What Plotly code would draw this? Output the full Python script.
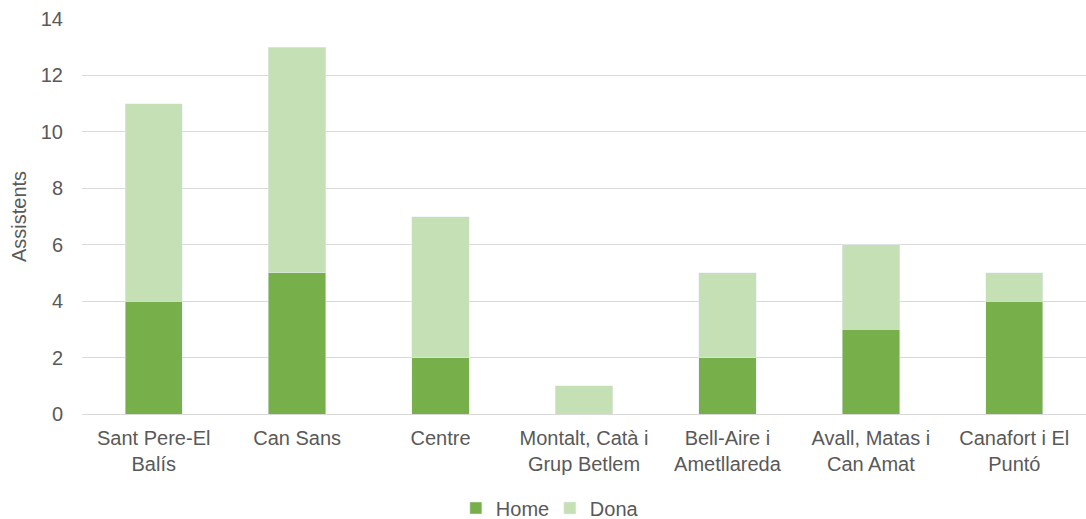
import plotly.graph_objects as go

categories = ["Sant Pere-El<br>Balís", "Can Sans", "Centre", "Montalt, Catà i<br>Grup Betlem",
              "Bell-Aire i<br>Ametllareda", "Avall, Matas i<br>Can Amat", "Canafort i El<br>Puntó"]
home = [4, 5, 2, 0, 2, 3, 4]
dona = [7, 8, 5, 1, 3, 3, 1]
y_ticks = [0, 2, 4, 6, 8, 10, 12, 14]

font = dict(family="Liberation Sans, Arial, sans-serif", size=20, color="#595959")

fig = go.Figure()
fig.add_trace(go.Bar(x=categories, y=home, name="Home", marker_color="#77B04B"))
fig.add_trace(go.Bar(x=categories, y=dona, name="Dona", marker_color="#C5E0B4"))

fig.update_layout(
    barmode="stack",
    bargap=0.6,
    width=1086, height=519,
    margin=dict(l=82, r=0, t=19, b=105, autoexpand=False),
    plot_bgcolor="white", paper_bgcolor="white",
    font=font,
    legend=dict(orientation="h", x=0.466, xanchor="center", y=-0.238, yanchor="middle",
                font=font, itemwidth=30, traceorder="normal",
                entrywidth=49, entrywidthmode="pixels"),
    xaxis=dict(showline=True, linecolor="#D9D9D9", linewidth=1, ticks="", tickfont=font,
               ticklabelstandoff=6, automargin=False),
    yaxis=dict(range=[0, 14], tickvals=y_ticks, showgrid=True, gridcolor="#D9D9D9",
               zeroline=False, tickfont=font, ticks="", ticklabelstandoff=18, automargin=False,
               title=dict(text="Assistents", font=font, standoff=8)),
)
fig.write_html("out.html", post_script="document.body.style.margin='0px';",
               config={"displayModeBar": False})
